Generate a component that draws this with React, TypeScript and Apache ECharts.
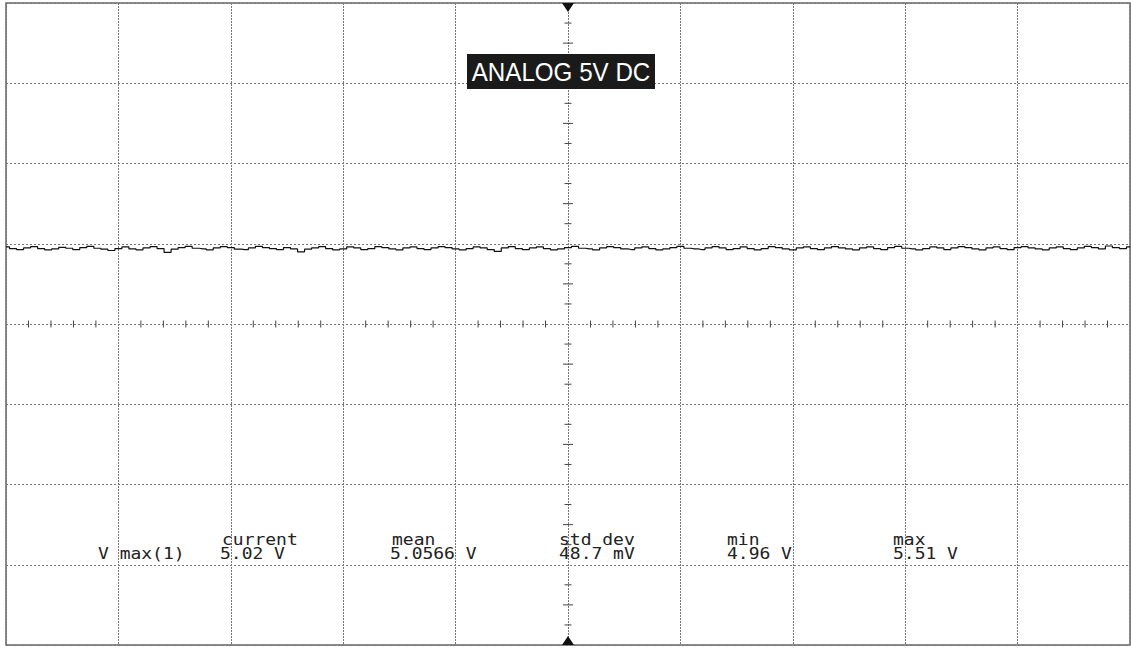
import React, { useEffect, useRef } from "react";
import * as echarts from "echarts";

// ---- data ----
const channelLabel = "ANALOG 5V DC";
const measureName = "V max(1)";
const measureHeaders = ["current", "mean", "std dev", "min", "max"];
const measureValues = ["5.02 V", "5.0566 V", "48.7 mV", "4.96 V", "5.51 V"];

// horizontal axis: 10 divisions, vertical axis: volts, 5 V/div, 8 divisions
const xDivisions = [0, 10];
const yRange = [-20, 20];
const yPerDiv = 5;

// sampled trace (volts), 161 samples across the 10 divisions
const traceValues = [
  4.80, 4.70, 4.64, 4.74, 4.82, 4.70, 4.62, 4.68, 4.78, 4.72, 4.64, 4.76, 4.84, 4.72, 4.66, 4.58, 4.70, 4.80, 4.68, 4.62,
  4.74, 4.82, 4.70, 4.46, 4.66, 4.76, 4.84, 4.72, 4.68, 4.62, 4.74, 4.82, 4.76, 4.66, 4.64, 4.74, 4.84, 4.76, 4.70, 4.64,
  4.76, 4.68, 4.50, 4.66, 4.74, 4.82, 4.70, 4.62, 4.68, 4.80, 4.74, 4.64, 4.70, 4.82, 4.76, 4.68, 4.62, 4.74, 4.80, 4.70,
  4.64, 4.74, 4.82, 4.76, 4.68, 4.62, 4.70, 4.80, 4.74, 4.64, 4.52, 4.74, 4.82, 4.70, 4.64, 4.74, 4.80, 4.70, 4.62, 4.68,
  4.76, 4.84, 4.72, 4.68, 4.62, 4.74, 4.82, 4.76, 4.68, 4.64, 4.74, 4.80, 4.70, 4.62, 4.68, 4.76, 4.84, 4.72, 4.68, 4.64,
  4.74, 4.82, 4.74, 4.64, 4.70, 4.80, 4.70, 4.62, 4.70, 4.82, 4.76, 4.68, 4.62, 4.74, 4.80, 4.70, 4.64, 4.74, 4.82, 4.74,
  4.68, 4.62, 4.74, 4.80, 4.70, 4.64, 4.76, 4.84, 4.72, 4.68, 4.62, 4.70, 4.80, 4.74, 4.64, 4.74, 4.82, 4.76, 4.68, 4.62,
  4.74, 4.80, 4.70, 4.64, 4.76, 4.82, 4.74, 4.68, 4.62, 4.74, 4.80, 4.70, 4.64, 4.74, 4.84, 4.76, 4.68, 4.86, 4.76, 4.70, 4.80,
];

// ---- layout ----
const GRID = { left: 6, top: 3, width: 1124, height: 642 };
const headerX = [222, 392, 559, 727, 893];
const valueX = [220, 390, 559, 727, 893];
const nameX = 98;
const row1Y = 540;
const row2Y = 554;
const monoScale = 1.2;

export default function App() {
  const ref = useRef<HTMLDivElement>(null);

  useEffect(() => {
    if (!ref.current) return;
    const chart = echarts.init(ref.current, undefined, { renderer: "svg" });
    const n = traceValues.length;
    const span = xDivisions[1] - xDivisions[0];
    const traceData = traceValues.map((v, i) => [xDivisions[0] + (i * span) / (n - 1), v]);
    const xc = (xDivisions[0] + xDivisions[1]) / 2;
    const yc = (yRange[0] + yRange[1]) / 2;

    const monoText = (text: string, x: number, y: number) => ({
      type: "text",
      x,
      y,
      scaleX: monoScale,
      silent: true,
      z: 50,
      style: {
        text,
        x: 0,
        y: 0,
        fill: "#222",
        font: "15px 'DejaVu Sans Mono'",
        align: "left",
        verticalAlign: "middle",
      },
    });

    const graphics: any[] = [
      {
        type: "rect",
        shape: { x: 467, y: 54, width: 188, height: 35 },
        style: { fill: "#1a1a1a" },
        z: 40,
      },
      {
        type: "text",
        x: 561,
        y: 72,
        scaleX: 0.93,
        z: 41,
        style: {
          text: channelLabel,
          x: 0,
          y: 0,
          fill: "#fff",
          font: "26px 'Liberation Sans'",
          align: "center",
          verticalAlign: "middle",
        },
      },
      monoText(measureName, nameX, row2Y),
    ];
    measureHeaders.forEach((h, i) => graphics.push(monoText(h, headerX[i], row1Y)));
    measureValues.forEach((v, i) => graphics.push(monoText(v, valueX[i], row2Y)));

    chart.setOption({
      animation: false,
      backgroundColor: "#fff",
      grid: {
        ...GRID,
        show: true,
        borderColor: "#666",
        borderWidth: 1.5,
        backgroundColor: "#fff",
      },
      xAxis: {
        type: "value",
        min: xDivisions[0],
        max: xDivisions[1],
        interval: 1,
        axisLine: { show: false },
        axisTick: { show: false },
        axisLabel: { show: false },
        splitLine: { show: true, lineStyle: { color: "#777", type: [2, 1], width: 1 } },
      },
      yAxis: {
        type: "value",
        min: yRange[0],
        max: yRange[1],
        interval: yPerDiv,
        axisLine: { show: false },
        axisTick: { show: false },
        axisLabel: { show: false },
        splitLine: { show: true, lineStyle: { color: "#777", type: [2, 2], width: 1 } },
      },
      series: [
        {
          type: "custom",
          silent: true,
          clip: false,
          z: 3,
          data: [[xc, yc]],
          renderItem: (_params: any, api: any) => {
            const children: any[] = [];
            const tickStyle = { stroke: "#444", lineWidth: 1 };
            // minor ticks on horizontal center line: 5 per division
            for (let i = 0; i <= span * 5; i++) {
              if (i % 5 === 0) continue;
              const p = api.coord([xDivisions[0] + i / 5, yc]);
              children.push({
                type: "line",
                shape: { x1: p[0], y1: p[1] - 3.5, x2: p[0], y2: p[1] + 3.5 },
                style: tickStyle,
              });
            }
            // minor ticks on vertical center line: 4 per division
            const nY = ((yRange[1] - yRange[0]) / yPerDiv) * 4;
            for (let j = 0; j <= nY; j++) {
              if (j % 4 === 0) continue;
              const p = api.coord([xc, yRange[0] + (j * yPerDiv) / 4]);
              const half = j % 2 === 0 ? 5 : 3.5;
              children.push({
                type: "line",
                shape: { x1: p[0] - half, y1: p[1], x2: p[0] + half, y2: p[1] },
                style: tickStyle,
              });
            }
            const top = api.coord([xc, yRange[1]]);
            const bot = api.coord([xc, yRange[0]]);
            children.push({
              type: "polygon",
              shape: { points: [[top[0] - 6, top[1]], [top[0] + 6, top[1]], [top[0], top[1] + 9]] },
              style: { fill: "#111" },
            });
            children.push({
              type: "polygon",
              shape: { points: [[bot[0] - 6, bot[1]], [bot[0] + 6, bot[1]], [bot[0], bot[1] - 9]] },
              style: { fill: "#111" },
            });
            return { type: "group", children };
          },
        },
        {
          type: "line",
          data: traceData,
          showSymbol: false,
          symbol: "none",
          step: "middle",
          silent: true,
          z: 4,
          lineStyle: { color: "#111", width: 1.2 },
        },
      ],
      graphic: graphics,
    });
    return () => chart.dispose();
  }, []);

  return (
    <div
      ref={ref}
      style={{ position: "absolute", left: 0, top: 0, width: 1131, height: 648 }}
    />
  );
}
